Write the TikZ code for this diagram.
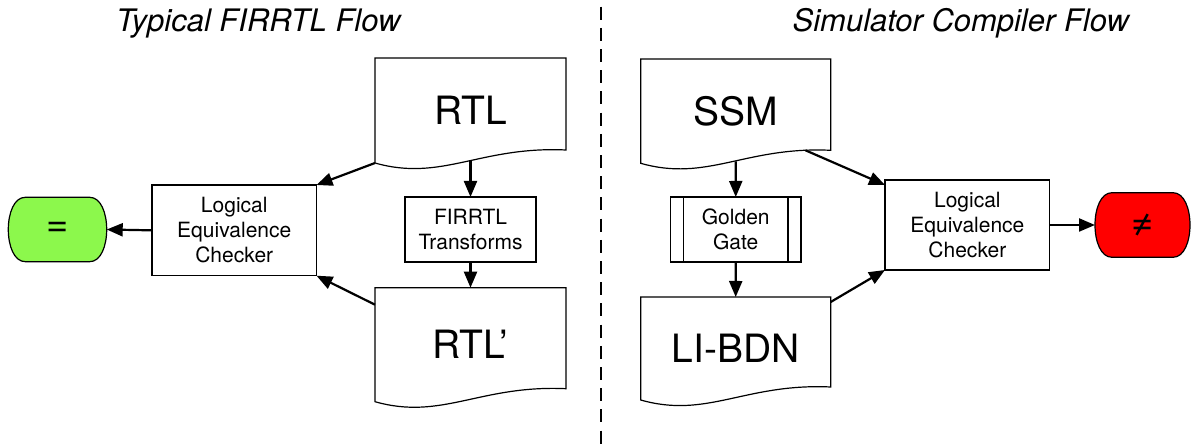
\documentclass[tikz,border=0pt]{standalone}
\usepackage{fontspec}
\setmainfont{TeX Gyre Heros}
\usetikzlibrary{arrows.meta,calc,backgrounds}

\definecolor{eqgreen}{RGB}{140,248,76}
\definecolor{neqred}{RGB}{255,0,0}

\tikzset{
  outline/.style={draw=black, line width=1.2pt},
  procbox/.style={outline, rectangle, inner sep=0pt, outer sep=0pt, align=center,
    font=\fontsize{21}{25}\selectfont},
  docbox/.style={rectangle, inner sep=0pt, outer sep=0pt, minimum width=191pt,
    font=\fontsize{39}{45}\selectfont},
  termbox/.style={rectangle, inner sep=0pt, outer sep=0pt,
    font=\fontsize{38}{44}\selectfont},
  flowtitle/.style={anchor=base, font=\fontsize{31}{36}\selectfont\itshape},
  conn/.style={line width=2.2pt, -{Triangle[length=16pt,width=13pt]}},
  divider/.style={line width=2.6pt, dash pattern=on 13pt off 8.2pt},
}

% document symbol: flat top, wavy bottom edge (left end lower than right)
\newcommand\docoutline[1]{%
  \draw[outline] (#1.north west) -- (#1.north east) -- ($(#1.south east)+(0,13)$)
    .. controls ($(#1.south west)!0.55!(#1.south east)+(0,17)$)
       and ($(#1.south west)!0.35!(#1.south east)+(0,-19)$) .. (#1.south west) -- cycle;}

% terminal symbol: flat top and bottom, bulging sides
\newcommand\termoutline[3]{%
  \draw[outline, fill=#2] ($(#1.north west)+(#3,0)$) -- ($(#1.north east)+(-#3,0)$)
    .. controls ($(#1.north east)+(#3/3,0)$) and ($(#1.south east)+(#3/3,0)$)
    .. ($(#1.south east)+(-#3,0)$) -- ($(#1.south west)+(#3,0)$)
    .. controls ($(#1.south west)+(-#3/3,0)$) and ($(#1.north west)+(-#3/3,0)$)
    .. cycle;}

\begin{document}
\begin{tikzpicture}[x=1pt, y=1pt]
  \useasboundingbox (0,0) rectangle (1191,446);

  % titles
  \node[flowtitle] (ttlL) at (258.3,414.3) {Typical FIRRTL Flow};
  \node[flowtitle] (ttlR) at (960.8,414.3) {Simulator Compiler Flow};

  % separator
  \coordinate (divtop) at (601,439.3);
  \coordinate (divbot) at (601,0);
  \draw[divider] (divtop) -- (divbot);

  % ---- FIRRTL flow ----
  \node[termbox, minimum width=98.4pt, minimum height=64.4pt] (eqT) at (57.5,216.5) {=};
  \node[procbox, minimum width=164.5pt, minimum height=90.7pt] (lecL) at (234.25,215.65)
    {Logical\\Equivalence\\Checker};
  \node[docbox, minimum height=105pt] (rtl) at (470.5,335.5) {RTL};
  \node[procbox, minimum width=131pt, minimum height=65pt] (fir) at (470.5,216.5)
    {FIRRTL\\Transforms};
  \node[docbox, minimum height=114pt] (rtlp) at (470.5,101.3) {RTL’};

  % ---- simulator compiler flow ----
  \node[docbox, minimum width=190pt, minimum height=104.3pt] (ssm) at (735.7,334.85) {SSM};
  \node[procbox, minimum width=130.5pt, minimum height=65pt] (gg) at (735.75,216.5)
    {Golden\\Gate};
  \node[docbox, minimum width=190pt, minimum height=103pt] (lib) at (735.7,97.5) {LI-BDN};
  \node[procbox, minimum width=164.7pt, minimum height=90pt] (lecR) at (967.35,221)
    {Logical\\Equivalence\\Checker};
  \node[termbox, minimum width=95pt, minimum height=64.6pt] (neT) at (1142.5,221) {≠};

  % shape outlines
  \docoutline{rtl}
  \docoutline{rtlp}
  \docoutline{ssm}
  \docoutline{lib}
  \draw[outline] ($(gg.north west)+(13,0)$) -- ($(gg.south west)+(13,0)$);
  \draw[outline] ($(gg.north east)+(-13,0)$) -- ($(gg.south east)+(-13,0)$);
  \begin{scope}[on background layer]
    \fill[white] (0,0) rectangle (1191,446);
    \termoutline{eqT}{eqgreen}{17}
    \termoutline{neT}{neqred}{17}
  \end{scope}

  % connectors, FIRRTL flow
  \draw[conn] (rtl.south west) -- (lecL.north east);
  \draw[conn] ($(rtl.south)+(0,2)$) -- (fir.north);
  \draw[conn] (fir.south) -- (rtlp.north);
  \draw[conn] ($(rtlp.north west)+(0,-17)$) -- (lecL.south east);
  \draw[conn] (lecL.west) -- (eqT.east);

  % connectors, simulator compiler flow
  \draw[conn] ($(ssm.south)+(0,2)$) -- (gg.north);
  \draw[conn] (gg.south) -- (lib.north);
  \draw[conn] ($(ssm.south west)!0.867!(ssm.south east)+(0,13)$) -- ($(lecR.north west)+(0,-5)$);
  \draw[conn] ($(lib.north east)+(0,-5)$) -- (lecR.south west);
  \draw[conn] (lecR.east) -- (neT.west);
\end{tikzpicture}
\end{document}
